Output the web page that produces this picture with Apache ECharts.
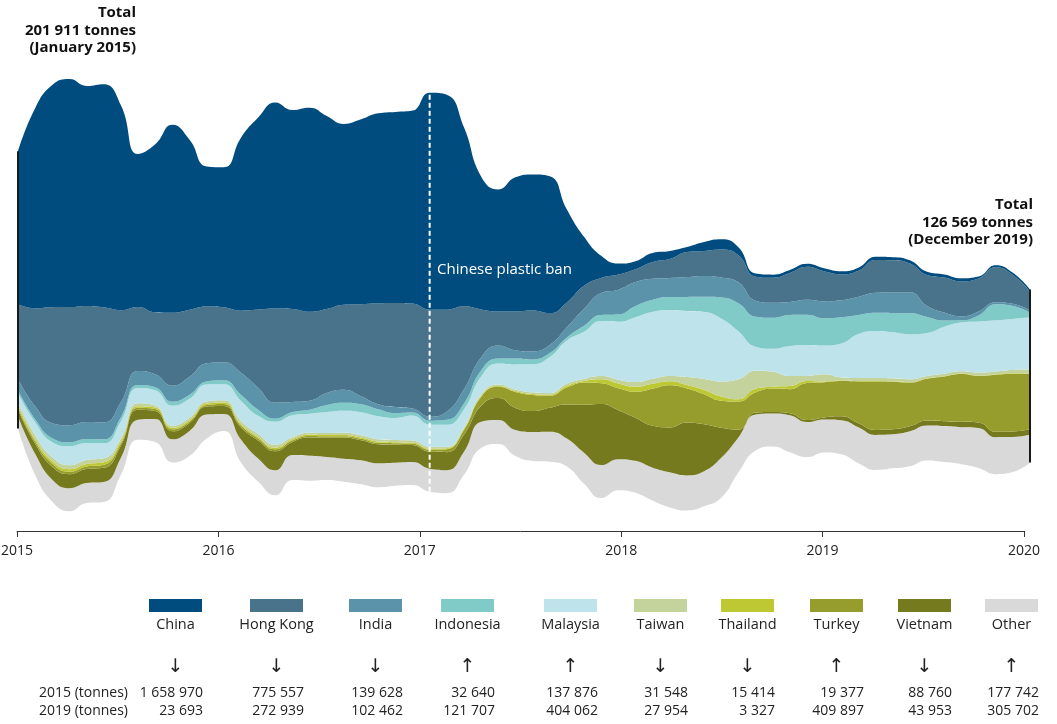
<!DOCTYPE html>
<html>
<head>
<meta charset="utf-8">
<script src="https://cdn.jsdelivr.net/npm/echarts@6/dist/echarts.min.js"></script>
<style>
  html, body { margin: 0; padding: 0; background: #fff; }
  #chart { width: 1057px; height: 724px; }
</style>
</head>
<body>
<div id="chart"></div>
<script>
// monthly plastic waste exports by destination, thousand tonnes, Jan 2015 .. Dec 2019
var china = [110.9,145.0,161.0,165.3,159.5,161.7,148.6,110.9,121.8,136.3,123.3,101.5,
  101.5,125.4,139.2,149.4,144.3,147.9,139.9,131.2,134.1,137.8,138.5,139.9,
  157.3,155.9,129.8,96.4,88.5,97.2,98.6,99.3,67.4,35.5,16.0,8.0,
  5.8,6.5,5.8,3.6,6.5,7.3,5.8,2.2,2.2,2.2,2.2,2.2,
  2.2,2.2,2.2,2.2,2.2,2.2,2.2,2.2,1.5,1.5,1.5,1.5]
var hongKong = [54.4,71.1,84.1,85.6,84.1,83.4,66.7,46.4,45.0,52.9,48.6,41.3,
  39.9,45.0,56.6,68.2,67.4,64.5,60.9,61.6,66.7,73.2,75.4,76.1,
  77.6,74.0,60.2,34.8,24.7,28.3,29.7,23.2,18.1,16.7,10.9,10.9,
  9.4,12.3,13.8,18.1,18.1,20.3,19.6,17.4,18.1,21.0,23.9,21.8,
  18.9,18.9,23.9,23.2,21.0,22.5,25.4,25.4,23.9,25.4,21.0,13.8]
var india = [8.0,9.4,10.9,12.3,12.3,12.3,10.9,10.2,9.4,11.6,13.1,13.1,
  13.1,16.0,16.0,11.6,7.3,6.5,8.7,9.4,5.8,3.6,4.4,2.9,
  2.9,5.8,10.2,9.4,9.4,5.8,5.8,5.8,7.3,12.3,16.0,18.1,
  17.4,15.2,13.8,14.5,15.2,14.5,15.2,11.6,10.9,9.4,10.9,12.3,
  12.3,13.1,14.5,15.2,15.2,8.0,5.8,2.9,2.9,1.5,1.5,1.5]
var indonesia = [2.2,2.2,2.9,2.9,2.9,2.9,2.9,2.2,2.2,2.9,2.9,2.2,
  2.9,4.4,4.4,2.2,2.2,2.9,5.1,5.8,5.8,5.1,3.6,2.2,
  2.9,3.6,4.4,4.4,3.6,4.4,3.6,2.9,2.2,4.4,4.4,5.1,
  8.0,8.7,9.4,10.2,10.9,15.2,20.3,21.8,22.5,22.5,21.8,19.6,
  18.9,13.8,13.1,13.8,15.2,11.6,4.4,1.5,4.4,11.6,9.4,3.6]
var malaysia = [6.5,9.4,10.9,13.8,12.3,10.9,12.3,10.9,10.9,14.5,13.8,12.3,
  11.6,14.5,13.1,16.7,16.0,13.8,15.2,16.0,16.7,16.7,16.0,18.1,
  16.0,16.0,13.1,13.1,15.2,18.1,20.3,26.1,31.2,34.1,39.9,42.1,
  47.1,48.6,47.9,47.9,48.6,45.7,34.8,17.4,16.7,21.8,22.5,21.0,
  24.7,31.9,34.1,33.4,32.6,31.2,34.1,35.5,37.0,37.0,37.0,37.7]
var taiwan = [2.2,2.9,2.9,2.9,2.9,2.9,2.2,2.2,1.5,1.5,1.5,1.5,
  1.5,2.2,2.2,2.2,1.5,1.5,1.5,1.5,1.5,1.5,1.5,1.5,
  1.5,1.1,1.1,1.1,1.1,1.1,1.2,1.2,1.7,1.5,2.2,2.7,
  3.4,3.6,3.8,5.8,8.0,10.9,14.5,13.1,10.9,7.3,3.6,5.1,
  2.2,2.2,2.2,2.2,2.2,1.8,1.8,1.8,2.2,2.2,2.5,2.9]
var thailand = [1.5,1.5,1.8,1.8,1.8,1.8,1.5,1.1,1.1,1.1,1.1,1.1,
  1.1,1.1,1.1,1.1,0.9,0.9,0.9,0.9,0.9,0.9,0.7,0.7,
  0.7,0.6,0.6,0.6,0.6,0.7,0.7,0.7,1.2,1.2,2.9,3.4,
  3.6,3.6,2.9,2.4,3.1,3.1,1.7,2.7,1.5,2.2,1.5,0.7,
  0.4,0.3,0.3,0.3,0.2,0.2,0.2,0.2,0.2,0.2,0.2,0.2]
var turkey = [1.5,1.8,2.2,1.8,1.8,2.2,1.8,1.5,1.5,1.5,1.1,1.1,
  1.5,1.5,1.5,1.5,1.1,1.1,1.1,1.1,1.1,1.1,1.1,1.1,
  1.5,2.2,3.6,6.5,8.0,11.6,11.6,8.7,12.3,16.0,15.2,16.0,
  18.9,26.8,30.5,24.7,21.8,19.6,20.3,14.5,16.7,17.4,26.8,25.4,
  25.5,30.3,35.2,34.5,31.7,30.3,32.4,34.5,33.7,41.3,42.0,40.0]
var vietnam = [5.1,7.3,9.4,10.2,10.2,10.2,8.7,7.3,5.8,5.8,5.8,5.8,
  5.8,8.7,13.1,13.8,9.4,13.1,13.8,15.2,14.5,13.8,13.1,12.3,
  12.3,13.1,12.3,11.6,16.0,16.0,15.2,17.4,24.7,34.8,44.2,35.5,
  31.2,30.5,32.6,38.4,34.1,21.8,5.8,1.5,1.1,1.5,1.5,1.5,
  2.9,2.9,3.6,3.6,3.6,3.6,3.6,4.0,4.0,4.0,4.0,4.0]
var other = [8.7,15.2,16.0,16.7,14.5,14.5,12.3,14.5,16.7,16.7,18.1,17.4,
  12.3,16.7,16.7,18.1,18.1,18.1,16.7,16.7,17.4,17.4,16.7,16.7,
  16.7,16.7,16.7,18.9,17.4,18.9,21.0,21.8,20.3,22.5,23.9,22.5,
  23.2,23.9,25.4,25.4,25.4,29.0,25.4,26.1,23.9,26.8,25.4,23.9,
  24.7,26.1,25.4,24.7,25.4,25.4,26.1,26.8,29.0,26.8,25.4,20.3]

var countries = ['China', 'Hong Kong', 'India', 'Indonesia', 'Malaysia', 'Taiwan', 'Thailand', 'Turkey', 'Vietnam', 'Other']
var total2015 = [1658970, 775557, 139628, 32640, 137876, 31548, 15414, 19377, 88760, 177742]
var total2019 = [23693, 272939, 102462, 121707, 404062, 27954, 3327, 409897, 43953, 305702]
var years = [2015, 2016, 2017, 2018, 2019, 2020]
var totalFirst = 201911
var totalLast = 126569
var banMonth = 'Jan 2017'

var colors = ['#004c7f', '#48738a', '#5b93aa', '#80cac8', '#bfe3ea', '#c4d29b', '#bec833', '#979d2d', '#767a1e', '#d9d9d9']
var monthly = [china, hongKong, india, indonesia, malaysia, taiwan, thailand, turkey, vietnam, other]

var monthNames = ['Jan', 'Feb', 'Mar', 'Apr', 'May', 'Jun', 'Jul', 'Aug', 'Sep', 'Oct', 'Nov', 'Dec']
var months = []
for (var y = 2015; y <= 2019; y++) {
  monthNames.forEach(function (m) { months.push(m + ' ' + y) })
}

var font = '"Open Sans", "DejaVu Sans", sans-serif'

function fmt(n) {
  return String(n).replace(/\B(?=(\d{3})+(?!\d))/g, ' ')
}

// streamgraph baseline (minimised wiggle), layers given bottom first
function wiggle(layers) {
  var m = layers[0].length
  var out = [0]
  var y = 0
  for (var j = 1; j < m; j++) {
    var s1 = 0, s2 = 0
    for (var i = 0; i < layers.length; i++) {
      var v = layers[i][j]
      var s3 = (v - layers[i][j - 1]) / 2
      for (var k = 0; k < i; k++) s3 += layers[k][j] - layers[k][j - 1]
      s1 += v
      s2 += s3 * v
    }
    if (s1) y -= s2 / s1
    out.push(y)
  }
  return out
}

// bottom (Other) to top (China)
var order = countries.map(function (c, i) { return i }).reverse()
var layers = order.map(function (i) {
  return monthly[i].map(function (v) { return Math.round(v * 1000) })
})
var base = wiggle(layers)
var upper = base.map(function (b, j) {
  var s = b
  layers.forEach(function (l) { s += l[j] })
  return s
})
var last = months.length - 1
var banIdx = months.indexOf(banMonth)

var series = [{
  name: 'base',
  type: 'line',
  stack: 'total',
  stackStrategy: 'all',
  data: base,
  symbol: 'none',
  smooth: 0.5,
  lineStyle: { opacity: 0 },
  silent: true
}]
order.forEach(function (ci, k) {
  series.push({
    name: countries[ci],
    type: 'line',
    stack: 'total',
    stackStrategy: 'all',
    data: layers[k],
    symbol: 'none',
    smooth: 0.5,
    lineStyle: { width: 0 },
    areaStyle: { color: colors[ci], opacity: 1 },
    silent: true
  })
})

// vertical rules: stream edges at first/last month, dashed ban marker
function rule(idx, style) {
  return {
    type: 'line',
    data: [[idx, base[idx]], [idx, upper[idx]]],
    symbol: 'none',
    silent: true,
    clip: false,
    z: 5,
    lineStyle: style
  }
}
series.push(rule(0, { color: '#1a1a1a', width: 2 }))
series.push(rule(last, { color: '#1a1a1a', width: 2 }))
series.push(rule(banIdx, { color: '#fff', width: 2, type: [5, 3] }))

// legend and totals table
var legendLeft = [149, 250, 349, 441, 544, 634, 721, 810, 898, 985]
var graphics = []
countries.forEach(function (c, i) {
  var x = legendLeft[i]
  graphics.push({ type: 'rect', shape: { x: x, y: 599, width: 53, height: 13 }, style: { fill: colors[i] } })
  graphics.push({ type: 'text', x: x + 26.5, y: 625, style: {
    text: c, font: '14.5px ' + font, fill: '#222', textAlign: 'center', textVerticalAlign: 'middle' } })
  graphics.push({ type: 'text', x: x + 26.5, y: 667, style: {
    text: total2019[i] < total2015[i] ? '↓' : '↑', font: '19px "DejaVu Sans"', fill: '#222',
    textAlign: 'center', textVerticalAlign: 'middle' } })
  graphics.push({ type: 'text', x: x + 54, y: 693, style: {
    text: fmt(total2015[i]), font: '14px ' + font, fill: '#222', textAlign: 'right', textVerticalAlign: 'middle' } })
  graphics.push({ type: 'text', x: x + 54, y: 711, style: {
    text: fmt(total2019[i]), font: '14px ' + font, fill: '#222', textAlign: 'right', textVerticalAlign: 'middle' } })
})
graphics.push({ type: 'text', x: 128, y: 693, style: {
  text: '2015 (tonnes)', font: '14px ' + font, fill: '#222', textAlign: 'right', textVerticalAlign: 'middle' } })
graphics.push({ type: 'text', x: 128, y: 711, style: {
  text: '2019 (tonnes)', font: '14px ' + font, fill: '#222', textAlign: 'right', textVerticalAlign: 'middle' } })
graphics.push({ type: 'text', x: 136, y: 4, style: {
  text: 'Total\n' + fmt(totalFirst) + ' tonnes\n(January 2015)', font: 'bold 15px ' + font,
  fill: '#111', textAlign: 'right', lineHeight: 17.5 } })
graphics.push({ type: 'text', x: 1033, y: 196, style: {
  text: 'Total\n' + fmt(totalLast) + ' tonnes\n(December 2019)', font: 'bold 15px ' + font,
  fill: '#111', textAlign: 'right', lineHeight: 17.5 } })
graphics.push({ type: 'text', x: 437, y: 270, z: 20, style: {
  text: 'Chinese plastic ban', font: '15px ' + font, fill: '#fff', textAlign: 'left', textVerticalAlign: 'middle' } })

var option = {
  animation: false,
  backgroundColor: '#fff',
  grid: [
    { left: 18, right: 27, top: 40, bottom: 194, outerBoundsMode: 'none' },
    { left: 17, right: 33, top: 480, bottom: 193, outerBoundsMode: 'none' }
  ],
  xAxis: [
    { gridIndex: 0, type: 'category', data: months, boundaryGap: false, show: false },
    {
      gridIndex: 1, type: 'value', min: years[0], max: years[years.length - 1], interval: 1,
      axisLine: { show: true, lineStyle: { color: '#333', width: 1 } },
      axisTick: { show: true, length: 6, lineStyle: { color: '#333' } },
      axisLabel: { color: '#222', fontSize: 14, fontFamily: font, margin: 13,
        formatter: function (v) { return String(v) } },
      splitLine: { show: false }
    }
  ],
  yAxis: [
    { gridIndex: 0, type: 'value', min: -73600, max: 281650, show: false, splitLine: { show: false } },
    { gridIndex: 1, type: 'value', min: 0, max: 1, show: false, splitLine: { show: false } }
  ],
  series: series,
  graphic: graphics
}

var myChart = echarts.init(document.getElementById('chart'))
option && myChart.setOption(option)
</script>
</body>
</html>
